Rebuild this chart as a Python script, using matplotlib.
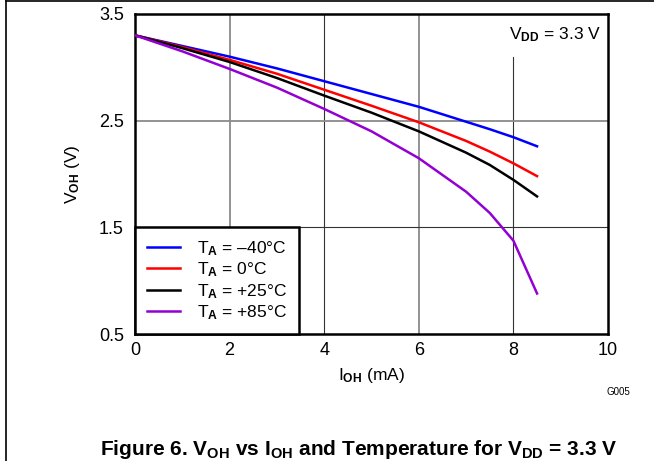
import numpy as np
import matplotlib.pyplot as plt
from matplotlib.lines import Line2D

plt.rcParams['font.family'] = ['Liberation Sans', 'DejaVu Sans']
plt.rcParams['mathtext.fontset'] = 'custom'
plt.rcParams['mathtext.rm'] = 'Liberation Sans'
plt.rcParams['mathtext.it'] = 'Liberation Sans'
plt.rcParams['mathtext.bf'] = 'Liberation Sans:bold'

# I_OH in mA
stroom = [0, 1, 2, 3, 4, 5, 6, 7, 7.5, 8, 8.5]
# V_OH per temperatuur
v_min40 = [3.30, 3.20, 3.10, 2.99, 2.87, 2.75, 2.63, 2.49, 2.42, 2.345, 2.26]
v_0 = [3.30, 3.19, 3.07, 2.94, 2.79, 2.64, 2.485, 2.31, 2.21, 2.10, 1.98]
v_25 = [3.30, 3.18, 3.05, 2.90, 2.735, 2.575, 2.40, 2.20, 2.085, 1.945, 1.79]
v_85 = [3.30, 3.15, 2.985, 2.81, 2.61, 2.40, 2.148, 1.834, 1.635, 1.375, 0.88]

labels = [r'T$_\mathbf{A}$ = –40°C', r'T$_\mathbf{A}$ = 0°C',
          r'T$_\mathbf{A}$ = +25°C', r'T$_\mathbf{A}$ = +85°C']
kleuren = ['#0000ff', '#ff0000', '#000000', '#9400d3']

xticks = [0, 2, 4, 6, 8, 10]
yticks = [0.5, 1.5, 2.5, 3.5]

fig = plt.figure(figsize=(6.54, 4.61), dpi=100)
ax = fig.add_axes([135/654, 1 - 334/461, 473/654, 320/461])

# grid met de hand, lijn bij 8 stopt onder het VDD label
licht = dict(color='#8a8a8a', lw=1.3, zorder=1)
donker = dict(color='#333333', lw=0.8, zorder=1)
for xt in xticks[1:-1]:
    ymax = 0.866 if xt == 8 else 1
    stijl = donker if xt in (4, 8) else licht
    ax.axvline(xt, ymax=ymax, **stijl)
ax.axhline(1.5, **donker)
ax.axhline(2.5, **licht)

for v, kl, lb in zip([v_min40, v_0, v_25, v_85], kleuren, labels):
    ax.plot(stroom, v, color=kl, lw=1.8, label=lb, zorder=3)

ax.set_xlim(0, 10)
ax.set_ylim(0.5, 3.5)
ax.set_xticks(xticks)
ax.set_yticks(yticks)
ax.set_xticklabels([str(t) for t in xticks])
ax.set_yticklabels([str(t) for t in yticks])
ax.tick_params(length=0, labelsize=13, pad=6)
ax.tick_params(axis='y', pad=8)
for s in ax.spines.values():
    s.set_linewidth(1.8)

ax.set_xlabel(r'I$_\mathbf{OH}$ (mA)', fontsize=12.5, labelpad=5)
ax.set_ylabel(r'V$_\mathbf{OH}$ (V)', fontsize=12.5, labelpad=12)

ax.text(0.985, 0.935, r'V$_\mathbf{DD}$ = 3.3 V', transform=ax.transAxes,
        ha='right', va='center', fontsize=12.5)

leg = ax.legend(loc='lower left', borderaxespad=0, fancybox=False,
                edgecolor='black', framealpha=1, fontsize=12.5,
                handlelength=1.9, handletextpad=0.95, labelspacing=0.15,
                borderpad=0.7)
leg.get_frame().set_linewidth(1.8)
leg.set_zorder(5)

fig.text(618/654, 1 - 392/461, 'G005', ha='center', va='center', fontsize=7)
fig.text(359/654, 1 - 449/461,
         r'Figure 6. V$_\mathbf{OH}$ vs I$_\mathbf{OH}$ and Temperature for V$_\mathbf{DD}$ = 3.3 V',
         ha='center', va='center', fontsize=15, fontweight='bold')

# kader rond figuur (boven en links)
fig.add_artist(Line2D([6/654, 1], [1 - 1/461, 1 - 1/461], color='black', lw=1.2))
fig.add_artist(Line2D([6/654, 6/654], [0, 1 - 1/461], color='black', lw=1.2))

plt.savefig('out.png', dpi=100)
